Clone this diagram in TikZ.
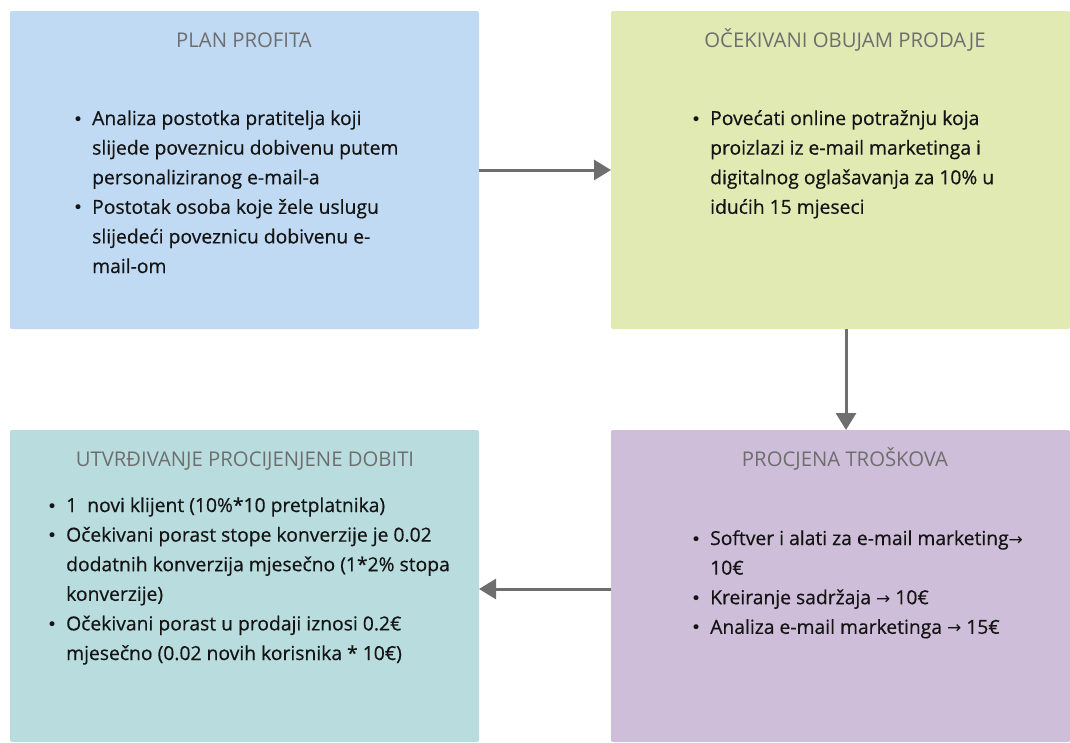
\documentclass[tikz,border=0pt]{standalone}
\usepackage{fontspec}
\setmainfont{Open Sans}
\newfontfamily\tekstfont[RawFeature={embolden=0.5}]{Open Sans}
\newfontfamily\strelice{DejaVu Sans}
\usetikzlibrary{arrows.meta}
\definecolor{plavo}{HTML}{C0DAF3}
\definecolor{zeleno}{HTML}{E1EAB3}
\definecolor{tirkizno}{HTML}{B9DDDF}
\definecolor{ljubicasto}{HTML}{CFBED9}
\definecolor{sivo}{HTML}{6E6E6E}
\definecolor{tamno}{HTML}{141414}
\newcommand{\stavka}{\llap{{\strelice\fontsize{17}{29.6}\selectfont •}\hspace{9pt}}}
\newcommand{\desno}{{\strelice\fontsize{17}{29.6}\selectfont →}}
\begin{document}
\begin{tikzpicture}[x=1pt,y=-1pt,
 okvir/.style={rounded corners=2pt},
 naslov/.style={anchor=base,inner sep=0pt,text=sivo,font=\fontsize{20.3}{24}\selectfont},
 tekst/.style={anchor=base west,inner sep=0pt,text=tamno,font=\tekstfont\fontsize{19.3}{29.6}\selectfont},
 veza/.style={draw=sivo,line width=3pt,-{Triangle[length=17pt,width=20pt]}}]
 \useasboundingbox (0,0) rectangle (1070,742);
 \fill[okvir,plavo](10,11) rectangle (479,329);
 \fill[okvir,zeleno](611,11) rectangle (1070,329);
 \fill[okvir,tirkizno](10,430) rectangle (479,742);
 \fill[okvir,ljubicasto](611,430) rectangle (1070,742);
 \coordinate (plan) at (479,170);
 \coordinate (obujam) at (611,170);
 \coordinate (obujamdolje) at (846,329);
 \coordinate (troskovi) at (846,430);
 \coordinate (troskovilijevo) at (611,589);
 \coordinate (dobit) at (479,589);
 \node[naslov] (naslovplan) at (244,47) {PLAN PROFITA};
 \node[naslov] (naslovobujam) at (845,47) {OČEKIVANI OBUJAM PRODAJE};
 \node[naslov] (naslovdobit) at (245,466) {UTVRĐIVANJE PROCIJENJENE DOBITI};
 \node[naslov] (naslovtroskovi) at (845,466) {PROCJENA TROŠKOVA};
 \node[tekst] (tekstplan) at (92,125) {\begin{tabular}[t]{@{}l@{}}
 \stavka Analiza postotka pratitelja koji\\
 slijede poveznicu dobivenu putem\\
 personaliziranog e-mail-a\\
 \stavka Postotak osoba koje žele uslugu\\
 slijedeći poveznicu dobivenu e-\\
 mail-om\end{tabular}};
 \node[tekst] (tekstobujam) at (710,125) {\begin{tabular}[t]{@{}l@{}}
 \stavka Povećati online potražnju koja\\
 proizlazi iz e-mail marketinga i\\
 digitalnog oglašavanja za 10\% u\\
 idućih 15 mjeseci\end{tabular}};
 \node[tekst] (tekstdobit) at (66,512) {\begin{tabular}[t]{@{}l@{}}
 \stavka 1\ \ novi klijent (10\%*10 pretplatnika)\\
 \stavka Očekivani porast stope konverzije je 0.02\\
 dodatnih konverzija mjesečno (1*2\% stopa\\
 konverzije)\\
 \stavka Očekivani porast u prodaji iznosi 0.2€\\
 mjesečno (0.02 novih korisnika * 10€)\end{tabular}};
 \node[tekst] (teksttroskovi) at (710,545) {\begin{tabular}[t]{@{}l@{}}
 \stavka Softver i alati za e-mail marketing\desno\\
 10€\\
 \stavka Kreiranje sadržaja \desno{} 10€\\
 \stavka Analiza e-mail marketinga \desno{} 15€\end{tabular}};
 \draw[veza](plan)--(obujam);
 \draw[veza](obujamdolje)--(troskovi);
 \draw[veza](troskovilijevo)--(dobit);
\end{tikzpicture}
\end{document}
